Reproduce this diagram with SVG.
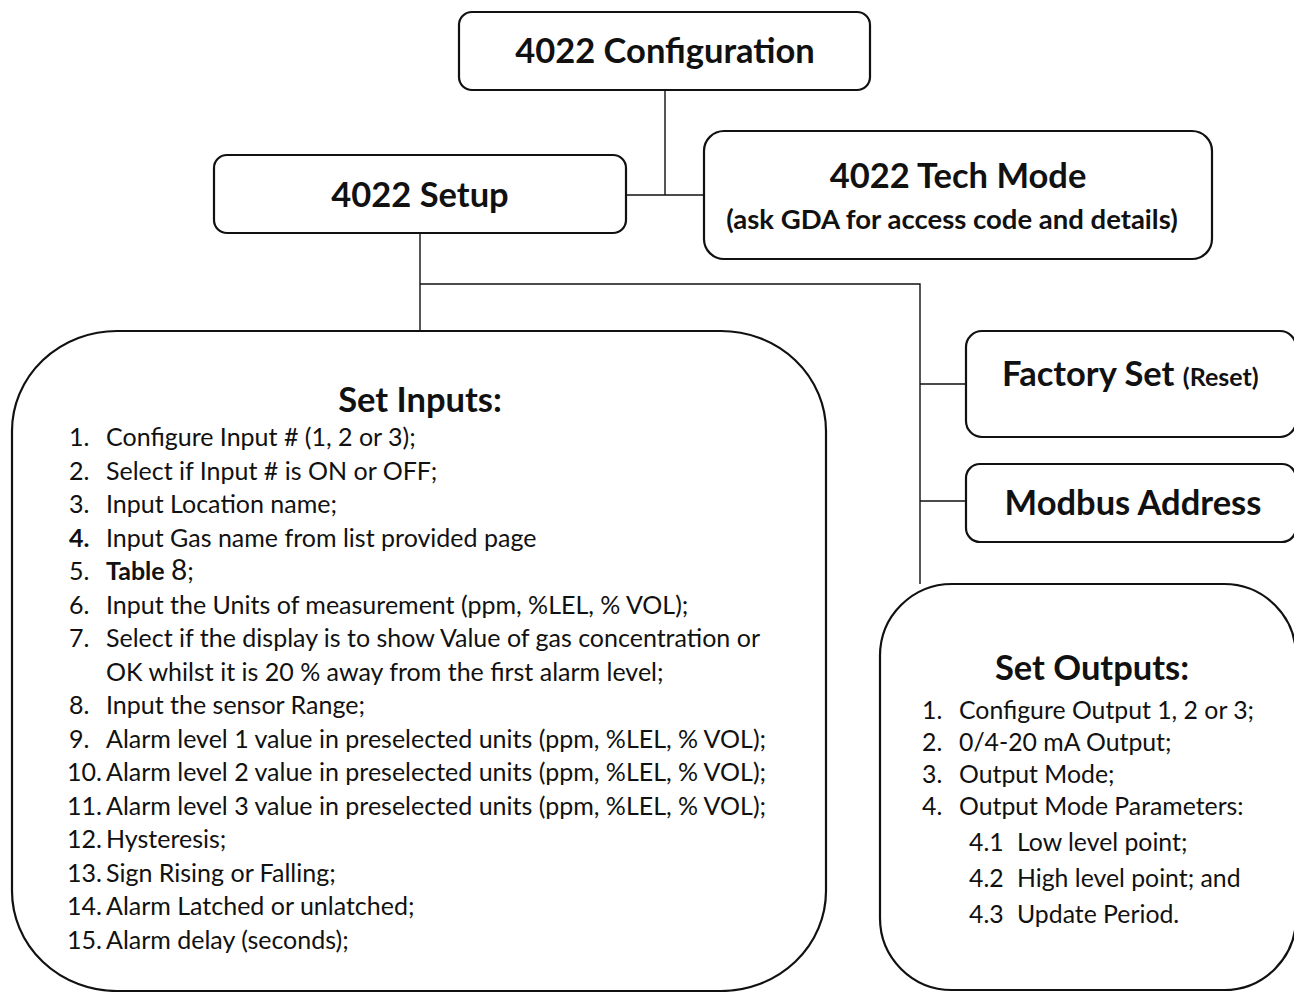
<svg xmlns="http://www.w3.org/2000/svg" width="1294" height="992" viewBox="0 0 1294 992">
<style>
  .box{fill:#fff;stroke:#111;stroke-width:2.2}
  .ln{fill:none;stroke:#111;stroke-width:1.4}
  text{font-family:"Lato","Open Sans",sans-serif;fill:#111}
  .t{font-weight:bold;font-size:34.5px}
  .sub{font-weight:bold;font-size:27.5px}
  .li{font-size:25px}
  .lo{font-size:24.8px}
  .b{font-weight:bold}
</style>
<rect width="1294" height="992" fill="#fff"/>
<g id="connectors">
  <path class="ln" d="M665 90 V195 M626 195 H704"/>
  <path class="ln" d="M420 233 V331 M420 284 H920 V584 M920 384 H966 M920 501 H966"/>
</g>
<g id="n-config">
  <rect class="box" x="459" y="12" width="411" height="78" rx="13"/>
  <text class="t" x="665" y="63" text-anchor="middle">4022 Configuration</text>
</g>
<g id="n-setup">
  <rect class="box" x="214" y="155" width="412" height="78" rx="13"/>
  <text class="t" x="420" y="207" text-anchor="middle">4022 Setup</text>
</g>
<g id="n-tech">
  <rect class="box" x="704" y="131" width="508" height="128" rx="20"/>
  <text class="t" x="958" y="188" text-anchor="middle">4022 Tech Mode</text>
  <text class="sub" x="952" y="229" text-anchor="middle">(ask GDA for access code and details)</text>
</g>
<g id="n-factory">
  <rect class="box" x="966" y="331" width="330" height="106" rx="16"/>
  <text x="1002" y="386"><tspan class="t">Factory Set </tspan><tspan class="sub" style="font-size:25px">(Reset)</tspan></text>
</g>
<g id="n-modbus">
  <rect class="box" x="966" y="464" width="330" height="78" rx="14"/>
  <text class="t" x="1133" y="515" text-anchor="middle">Modbus Address</text>
</g>
<g id="n-inputs">
  <rect class="box" x="12" y="331" width="814" height="660" rx="105" ry="100"/>
  <text class="t" x="420" y="412" text-anchor="middle">Set Inputs:</text>
  <g class="li">
    <text x="69" y="446">1.</text><text x="106" y="446">Configure Input # (1, 2 or 3);</text>
    <text x="69" y="479.5">2.</text><text x="106" y="479.5">Select if Input # is ON or OFF;</text>
    <text x="69" y="513">3.</text><text x="106" y="513">Input Location name;</text>
    <text x="69" y="546.6" class="b">4.</text><text x="106" y="546.6">Input Gas name from list provided page</text>
    <text x="69" y="580.1">5.</text><text x="106" y="580.1"><tspan class="b">Table</tspan> <tspan style="font-size:28px">8</tspan>;</text>
    <text x="69" y="613.6">6.</text><text x="106" y="613.6">Input the Units of measurement (ppm, %LEL, % VOL);</text>
    <text x="69" y="647.2">7.</text><text x="106" y="647.2">Select if the display is to show Value of gas concentration or</text>
    <text x="106" y="680.7">OK whilst it is 20 % away from the first alarm level;</text>
    <text x="69" y="714.2">8.</text><text x="106" y="714.2">Input the sensor Range;</text>
    <text x="69" y="747.8">9.</text><text x="106" y="747.8">Alarm level 1 value in preselected units (ppm, %LEL, % VOL);</text>
    <text x="67" y="781.3">10.</text><text x="106" y="781.3">Alarm level 2 value in preselected units (ppm, %LEL, % VOL);</text>
    <text x="67" y="814.8">11.</text><text x="106" y="814.8">Alarm level 3 value in preselected units (ppm, %LEL, % VOL);</text>
    <text x="67" y="848.4">12.</text><text x="106" y="848.4">Hysteresis;</text>
    <text x="67" y="881.9">13.</text><text x="106" y="881.9">Sign Rising or Falling;</text>
    <text x="67" y="915.4">14.</text><text x="106" y="915.4">Alarm Latched or unlatched;</text>
    <text x="67" y="949">15.</text><text x="106" y="949">Alarm delay (seconds);</text>
  </g>
</g>
<g id="n-outputs">
  <rect class="box" x="880" y="584" width="416" height="406" rx="72"/>
  <text class="t" x="1092" y="680" text-anchor="middle">Set Outputs:</text>
  <g class="lo">
    <text x="922" y="719">1.</text><text x="959" y="719">Configure Output 1, 2 or 3;</text>
    <text x="922" y="751">2.</text><text x="959" y="751">0/4-20 mA Output;</text>
    <text x="922" y="783">3.</text><text x="959" y="783">Output Mode;</text>
    <text x="922" y="815">4.</text><text x="959" y="815">Output Mode Parameters:</text>
    <text x="969" y="851">4.1</text><text x="1017" y="851">Low level point;</text>
    <text x="969" y="887">4.2</text><text x="1017" y="887">High level point; and</text>
    <text x="969" y="923">4.3</text><text x="1017" y="923">Update Period.</text>
  </g>
</g>
</svg>
